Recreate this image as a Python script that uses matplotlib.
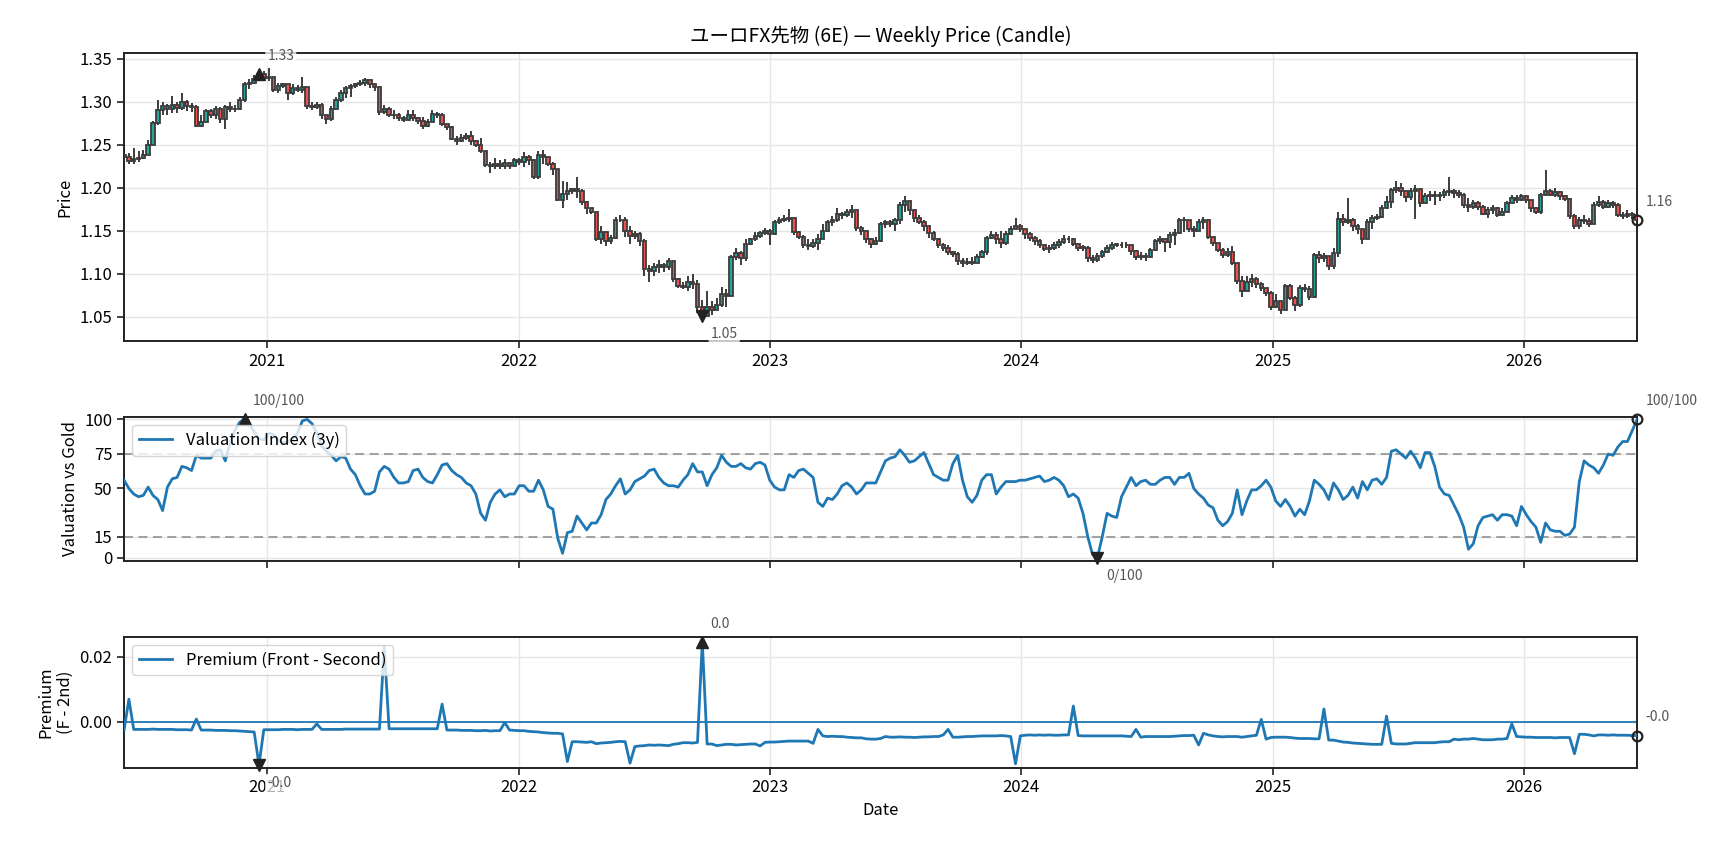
import numpy as np
import pandas as pd
import matplotlib
matplotlib.use("Agg")
import matplotlib.pyplot as plt
import matplotlib.dates as mdates

plt.rcParams['font.family'] = ['Noto Sans CJK JP', 'DejaVu Sans']

# weekly candles, prices in 1/1000
close_k = [
    1236, 1231, 1233, 1235, 1238, 1250, 1275, 1290, 1295, 1292,
    1296, 1293, 1300, 1295, 1294, 1272, 1276, 1289, 1285, 1291,
    1280, 1294, 1292, 1291, 1302, 1320, 1322, 1326, 1332, 1328,
    1329, 1313, 1318, 1320, 1310, 1316, 1314, 1317, 1295, 1294,
    1296, 1284, 1280, 1292, 1302, 1310, 1316, 1318, 1320, 1322,
    1325, 1321, 1317, 1288, 1292, 1285, 1284, 1281, 1279, 1285,
    1281, 1277, 1272, 1276, 1286, 1285, 1274, 1270, 1257, 1254,
    1258, 1260, 1254, 1250, 1243, 1226, 1225, 1228, 1225, 1229,
    1225, 1232, 1230, 1236, 1232, 1212, 1238, 1236, 1228, 1222,
    1186, 1193, 1196, 1198, 1196, 1183, 1177, 1172, 1140, 1148,
    1138, 1142, 1163, 1162, 1150, 1144, 1146, 1138, 1106, 1103,
    1108, 1110, 1108, 1115, 1094, 1086, 1085, 1090, 1088, 1062,
    1051, 1062, 1058, 1064, 1076, 1074, 1120, 1124, 1118, 1135,
    1140, 1144, 1147, 1150, 1146, 1160, 1162, 1164, 1165, 1148,
    1143, 1133, 1132, 1136, 1140, 1150, 1160, 1163, 1170, 1168,
    1172, 1174, 1153, 1150, 1140, 1135, 1138, 1158, 1160, 1158,
    1162, 1180, 1185, 1174, 1165, 1160, 1155, 1147, 1141, 1134,
    1130, 1125, 1123, 1115, 1112, 1114, 1113, 1120, 1125, 1142,
    1145, 1140, 1136, 1146, 1152, 1155, 1152, 1146, 1142, 1138,
    1134, 1129, 1130, 1133, 1137, 1141, 1140, 1135, 1130, 1130,
    1118, 1116, 1121, 1125, 1130, 1134, 1134, 1133, 1133, 1127,
    1120, 1121, 1119, 1128, 1138, 1140,
    1137, 1145, 1147, 1162, 1163, 1152, 1150, 1160, 1162, 1143,
    1136, 1128, 1122, 1125, 1112, 1092, 1080, 1090, 1094, 1088,
    1084, 1078, 1062, 1068, 1058, 1086, 1072, 1064, 1084, 1082,
    1073, 1122, 1118, 1121, 1109, 1124, 1164, 1160, 1163, 1155,
    1152, 1140, 1160, 1165, 1166, 1177, 1183, 1197, 1200, 1196,
    1189, 1196, 1198, 1182, 1190, 1192, 1190, 1192, 1195, 1196,
    1194, 1192, 1180, 1178, 1182, 1178, 1170, 1174, 1176, 1168,
    1172, 1182, 1188, 1186, 1190, 1186, 1176, 1172, 1192, 1196,
    1192, 1195, 1190, 1187, 1167, 1155, 1162, 1161, 1158, 1180,
    1183, 1178, 1182, 1180, 1168, 1167, 1170, 1168, 1162,
]
high_k = [
    1253, 1240, 1246, 1243, 1244, 1255, 1277, 1302, 1300, 1297,
    1306, 1300, 1310, 1302, 1298, 1296, 1285, 1291, 1291, 1295,
    1294, 1296, 1299, 1296, 1305, 1323, 1326, 1331, 1334, 1336,
    1339, 1326, 1322, 1322, 1318, 1320, 1319, 1329, 1314, 1300,
    1300, 1298, 1285, 1295, 1305, 1313, 1318, 1320, 1322, 1325,
    1328, 1326, 1320, 1316, 1296, 1294, 1290, 1287, 1283, 1290,
    1290, 1282, 1282, 1280, 1290, 1288, 1287, 1273, 1272, 1260,
    1262, 1264, 1266, 1255, 1258, 1243, 1230, 1235, 1232, 1233,
    1230, 1235, 1234, 1242, 1238, 1233, 1243, 1244, 1236, 1230,
    1212, 1208, 1207, 1200, 1212, 1198, 1185, 1176, 1172, 1155,
    1148, 1145, 1166, 1168, 1166, 1155, 1150, 1148, 1140, 1110,
    1112, 1116, 1113, 1118, 1115, 1095, 1090, 1097, 1100, 1093,
    1070, 1080, 1068, 1072, 1085, 1082, 1122, 1130, 1126, 1140,
    1142, 1148, 1150, 1153, 1152, 1163, 1166, 1168, 1175, 1165,
    1150, 1145, 1140, 1140, 1146, 1158, 1162, 1167, 1176, 1172,
    1175, 1180, 1172, 1156, 1150, 1142, 1143, 1160, 1163, 1162,
    1165, 1183, 1190, 1182, 1172, 1168, 1162, 1155, 1150, 1142,
    1136, 1133, 1127, 1125, 1118, 1118, 1120, 1123, 1128, 1144,
    1150, 1148, 1150, 1150, 1155, 1165, 1158, 1152, 1148, 1144,
    1140, 1134, 1134, 1137, 1140, 1145, 1144, 1142, 1136, 1133,
    1132, 1122, 1124, 1128, 1133, 1137, 1136, 1137, 1137, 1134,
    1128, 1125, 1124, 1130, 1140, 1144,
    1140, 1148, 1152, 1165, 1166, 1160, 1156, 1164, 1166, 1164,
    1142, 1135, 1130, 1130, 1132, 1112, 1098, 1097, 1100, 1096,
    1090, 1082, 1080, 1076, 1066, 1088, 1088, 1074, 1087, 1088,
    1086, 1124, 1126, 1124, 1121, 1130, 1172, 1170, 1188, 1165,
    1158, 1152, 1164, 1168, 1170, 1180, 1190, 1200, 1208, 1205,
    1196, 1200, 1203, 1198, 1194, 1196, 1196, 1195, 1198, 1212,
    1198, 1197, 1194, 1188, 1186, 1184, 1180, 1178, 1180, 1178,
    1176, 1185, 1192, 1192, 1193, 1190, 1186, 1178, 1194, 1220,
    1198, 1200, 1196, 1192, 1188, 1170, 1166, 1168, 1165, 1183,
    1190, 1186, 1186, 1185, 1182, 1172, 1174, 1172, 1168,
]
low_k = [
    1233, 1228, 1228, 1230, 1233, 1240, 1250, 1273, 1285, 1285,
    1287, 1287, 1290, 1289, 1288, 1270, 1270, 1280, 1281, 1280,
    1275, 1268, 1288, 1288, 1290, 1300, 1315, 1320, 1324, 1325,
    1324, 1311, 1310, 1316, 1302, 1308, 1311, 1310, 1292, 1290,
    1292, 1280, 1274, 1278, 1292, 1300, 1304, 1305, 1316, 1318,
    1318, 1316, 1312, 1285, 1286, 1282, 1280, 1278, 1276, 1279,
    1277, 1274, 1268, 1270, 1276, 1281, 1272, 1267, 1255, 1250,
    1253, 1255, 1250, 1247, 1240, 1224, 1217, 1222, 1222, 1222,
    1222, 1225, 1226, 1224, 1226, 1210, 1210, 1228, 1225, 1215,
    1184, 1176, 1186, 1193, 1188, 1180, 1170, 1169, 1138, 1135,
    1132, 1135, 1140, 1160, 1143, 1135, 1140, 1132, 1098, 1090,
    1098, 1101, 1102, 1105, 1090, 1083, 1082, 1080, 1082, 1055,
    1045, 1058, 1052, 1060, 1062, 1062, 1074, 1116, 1110, 1115,
    1133, 1138, 1142, 1145, 1134, 1145, 1158, 1160, 1160, 1145,
    1140, 1130, 1128, 1130, 1128, 1142, 1148, 1155, 1160, 1164,
    1166, 1165, 1150, 1145, 1136, 1130, 1134, 1137, 1153, 1154,
    1150, 1158, 1172, 1168, 1160, 1158, 1150, 1142, 1138, 1130,
    1126, 1122, 1120, 1110, 1108, 1110, 1110, 1112, 1118, 1122,
    1140, 1135, 1130, 1133, 1145, 1152, 1148, 1140, 1138, 1134,
    1130, 1126, 1124, 1128, 1130, 1135, 1136, 1132, 1127, 1126,
    1114, 1112, 1114, 1118, 1124, 1128, 1131, 1130, 1130, 1122,
    1116, 1116, 1115, 1118, 1126, 1135,
    1125, 1130, 1133, 1146, 1148, 1148, 1143, 1150, 1152, 1140,
    1132, 1125, 1118, 1120, 1110, 1088, 1073, 1082, 1085, 1084,
    1080, 1074, 1058, 1060, 1053, 1060, 1070, 1057, 1062, 1079,
    1070, 1072, 1113, 1114, 1104, 1106, 1120, 1155, 1158, 1150,
    1146, 1135, 1142, 1152, 1162, 1165, 1175, 1176, 1194, 1190,
    1183, 1186, 1164, 1178, 1183, 1184, 1180, 1185, 1188, 1190,
    1188, 1188, 1176, 1172, 1175, 1174, 1168, 1165, 1170, 1166,
    1168, 1172, 1182, 1182, 1184, 1182, 1172, 1170, 1170, 1193,
    1190, 1189, 1186, 1184, 1164, 1152, 1152, 1158, 1154, 1160,
    1178, 1175, 1176, 1176, 1166, 1164, 1165, 1164, 1160,
]

# valuation index vs gold (0-100)
valuation = [
    56, 50, 46, 44, 45, 51, 45, 42, 34, 51,
    57, 58, 66, 65, 63, 74, 72, 72, 72, 77,
    78, 70, 83, 92, 98, 100, 97, 91, 86, 85,
    90, 89, 85, 83, 84, 86, 90, 99, 100, 97,
    90, 81, 77, 74, 70, 73, 72, 64, 60, 52,
    46, 46, 48, 62, 66, 64, 58, 54, 54, 55,
    63, 64, 58, 55, 54, 60, 67, 68, 63, 60,
    58, 54, 52, 46, 32, 27, 40, 46, 49, 44,
    46, 46, 52, 52, 48, 48, 56, 49, 37, 35,
    14, 3, 18, 19, 30, 25, 20, 25, 25, 31,
    42, 46, 52, 57, 46, 49, 55, 57, 59, 63,
    64, 58, 54, 52, 52, 51, 56, 60, 68, 62,
    62, 52, 60, 65, 74, 69, 66, 66, 68, 65,
    64, 68, 69, 67, 56, 51, 49, 49, 60, 58,
    63, 64, 61, 58, 40, 37, 43, 42, 46, 52,
    54, 51, 46, 49, 54, 54, 54, 62, 70, 72,
    73, 78, 74, 69, 70, 73, 76, 68, 60, 58,
    56, 56, 68, 74, 56, 44, 40, 45, 56, 60,
    60, 46, 51, 55, 55, 55, 56, 56, 57, 58,
    59, 55, 56, 58, 56, 52, 44, 46, 43, 32,
    15, 2, 0, 15, 32, 30, 29, 44, 51, 58,
    52, 55, 56, 53, 53, 56,
    58, 58, 53, 58, 58, 61, 50, 46, 43, 38,
    36, 27, 23, 26, 32, 49, 31, 41, 49, 49,
    52, 56, 51, 41, 37, 42, 37, 30, 35, 31,
    41, 56, 53, 49, 42, 54, 49, 42, 45, 51,
    43, 55, 49, 56, 57, 53, 58, 77, 78, 75,
    72, 77, 72, 65, 76, 76, 66, 51, 46, 45,
    38, 31, 22, 6, 10, 23, 29, 30, 31, 27,
    31, 31, 30, 23, 37, 31, 26, 22, 11, 25,
    20, 19, 19, 16, 17, 22, 55, 70, 67, 65,
    61, 67, 75, 74, 80, 84, 84, 92, 100,
]

# front minus second month, in 1e-4
premium_e4 = [
    -26, 69, -24, -24, -24, -24, -23, -24, -24, -24, -24, -25, -25, -25, -26,
    8, -26, -26, -26, -27, -27, -27, -28, -28, -29, -30, -31, -32,
    -133, -25, -25, -25, -25, -24, -24, -24, -25, -24, -24, -24,
    -7, -24, -24, -24, -24, -24, -23, -23, -23, -23, -23, -23, -23, -23,
    231, -22, -22, -22, -22, -22, -22, -22, -22, -22, -22, -22,
    54, -26, -26, -26, -27, -27, -27, -28, -28, -27, -29, -28, -28,
    -3, -26, -27, -28, -28, -30, -31, -32, -34, -35, -36,
    -36, -38, -123,
    -62, -62, -63, -64, -62, -68, -66, -65, -64, -62, -61, -62,
    -128,
    -77, -75, -74, -72, -73, -72, -73, -74, -70, -68, -65, -65, -66, -64,
    246,
    -69, -69, -74, -72, -70, -70, -72, -71, -70, -69, -69,
    -75,
    -64, -63, -63, -62, -61, -60, -60, -60, -60, -60,
    -67, -24,
    -44, -46, -45, -46, -46, -48, -49, -50, -50, -53, -54, -54, -52,
    -46, -48, -48, -47, -48, -48, -49, -48, -47, -47, -46, -46, -41,
    -24,
    -48, -48, -47, -46, -46, -45, -44, -44, -44, -44, -43, -44, -46,
    -130,
    -44, -42, -41, -42, -41, -42, -41, -42, -42, -41, -41,
    48,
    -43, -44, -44, -44, -44, -44, -44, -44, -44, -44, -45, -46,
    -24,
    -48, -46, -46, -46, -46,
    -46, -46, -45, -44, -43, -43, -42,
    -72, -36,
    -41, -44, -46, -47, -46, -46, -46, -48, -46, -44, -42,
    7, -54,
    -49, -48, -48, -48, -49, -51, -52, -52, -52, -53, -53,
    39,
    -57, -57, -60, -63, -64, -66, -67, -68, -69, -70, -70, -70,
    17,
    -67, -69, -69, -69, -67, -65, -65, -65, -65, -65, -63, -62, -62,
    -54, -56, -54, -54, -52, -54, -56, -56, -56, -54, -54, -52,
    -7,
    -46, -47, -48, -48, -49, -49, -49, -49, -50, -49, -49, -49,
    -99,
    -39, -39, -41, -44, -41, -41, -42, -41, -42, -42, -42, -43, -43,
]

close = np.array(close_k) / 1000.0
high = np.array(high_k) / 1000.0
low = np.array(low_k) / 1000.0
openp = np.concatenate([[close[0] + 0.002], close[:-1]])
high = np.maximum(high, np.maximum(openp, close))
low = np.minimum(low, np.minimum(openp, close))
val = np.array(valuation, dtype=float)
prem = np.array(premium_e4) / 10000.0

dates = pd.date_range('2020-06-07', periods=len(close), freq='W-SUN')
x = mdates.date2num(dates)

DARK = '#222222'
CANDLE_EDGE = '#3c3c3c'
LBL = '#555555'
GRID = '#e6e6e6'
FS = 12

fig = plt.figure(figsize=(17.28, 8.49), dpi=100)
ax1 = fig.add_axes([0.0718, 0.5984, 0.8756, 0.3392])
ax2 = fig.add_axes([0.0718, 0.3396, 0.8756, 0.1696], sharex=ax1)
ax3 = fig.add_axes([0.0718, 0.0958, 0.8756, 0.1543], sharex=ax1)

bbox = dict(boxstyle='round,pad=0.15', fc='white', ec='none', alpha=0.75)


def note(ax, xv, yv, text, up=True, color=LBL):
    ax.annotate(text, (xv, yv), xytext=(6, 8 if up else -8), textcoords='offset points',
                ha='left', va='bottom' if up else 'top', fontsize=10, color=color,
                bbox=bbox, zorder=6, annotation_clip=False)


# --- candles
up = close >= openp
body_lo = np.minimum(openp, close)
body_h = np.maximum(np.abs(close - openp), 0.001)
ax1.vlines(x, low, high, color=CANDLE_EDGE, lw=1.4, zorder=2)
ax1.bar(x[up], body_h[up], bottom=body_lo[up], width=5.0, color='#26a69a',
        edgecolor=CANDLE_EDGE, linewidth=1.3, zorder=3)
ax1.bar(x[~up], body_h[~up], bottom=body_lo[~up], width=5.0, color='#ef5350',
        edgecolor=CANDLE_EDGE, linewidth=1.3, zorder=3)

imax = int(np.argmax(close))
imin = int(np.argmin(close))
ax1.plot(x[imax], close[imax], '^', color=DARK, ms=8, zorder=5, clip_on=False)
ax1.plot(x[imin], close[imin], 'v', color=DARK, ms=8, zorder=5, clip_on=False)
ax1.plot(x[-1], close[-1], 'o', mfc='none', mec=DARK, mew=1.6, ms=7, zorder=5, clip_on=False)
note(ax1, x[imax], close[imax], f'{close[imax]:.2f}', True)
note(ax1, x[imin], close[imin], f'{close[imin]:.2f}', False)
note(ax1, x[-1], close[-1], f'{close[-1]:.2f}', True)
ax1.set_ylim(1.022, 1.3565)
ax1.set_yticks(np.arange(1.05, 1.351, 0.05))
ax1.yaxis.set_major_formatter(plt.FormatStrFormatter('%.2f'))
ax1.set_ylabel('Price', fontsize=FS)
ax1.set_title('ユーロFX先物 (6E) — Weekly Price (Candle)', fontsize=14, pad=8)

# --- valuation
ax2.plot(x, val, color='#1f77b4', lw=2.0, label='Valuation Index (3y)', zorder=3)
for lvl in (75, 15):
    ax2.axhline(lvl, color='#999999', lw=1.3, ls=(0, (5, 3)), zorder=2)
vmax = int(np.argmax(val))
vmin = int(np.argmin(val))
ax2.plot(x[vmax], val[vmax], '^', color=DARK, ms=8, zorder=5, clip_on=False)
ax2.plot(x[vmin], val[vmin], 'v', color=DARK, ms=8, zorder=5, clip_on=False)
ax2.plot(x[-1], val[-1], 'o', mfc='none', mec=DARK, mew=1.6, ms=7, zorder=5, clip_on=False)
note(ax2, x[vmax], val[vmax], f'{val[vmax]:.0f}/100', True)
note(ax2, x[vmin], val[vmin], f'{val[vmin]:.0f}/100', False)
note(ax2, x[-1], val[-1], f'{val[-1]:.0f}/100', True)
ax2.set_ylim(-2.3, 102)
ax2.set_yticks([0, 15, 50, 75, 100])
ax2.set_ylabel('Valuation vs Gold', fontsize=FS)
ax2.legend(loc='upper left', fontsize=FS, framealpha=0.8, borderaxespad=0.5)
ax2.tick_params(labelbottom=False)

# --- premium
ax3.plot(x, prem, color='#1f77b4', lw=2.0, label='Premium (Front - Second)', zorder=3)
ax3.axhline(0, color='#1f77b4', lw=1.3, zorder=2)
pmax = int(np.argmax(prem))
pmin = int(np.argmin(prem))
ax3.plot(x[pmax], prem[pmax], '^', color=DARK, ms=8, zorder=5, clip_on=False)
ax3.plot(x[pmin], prem[pmin], 'v', color=DARK, ms=8, zorder=5, clip_on=False)
ax3.plot(x[-1], prem[-1], 'o', mfc='none', mec=DARK, mew=1.6, ms=7, zorder=5, clip_on=False)
note(ax3, x[pmax], prem[pmax], f'{prem[pmax]:.1f}', True)
note(ax3, x[pmin], prem[pmin], f'{prem[pmin]:.1f}', False)
note(ax3, x[-1], prem[-1], f'{prem[-1]:.1f}', True)
ax3.set_ylim(-0.0142, 0.0262)
ax3.set_yticks([0.0, 0.02])
ax3.yaxis.set_major_formatter(plt.FormatStrFormatter('%.2f'))
ax3.set_ylabel('Premium\n(F - 2nd)', fontsize=FS)
ax3.set_xlabel('Date', fontsize=FS)
ax3.legend(loc='upper left', fontsize=FS, framealpha=0.8, borderaxespad=0.5)

for ax in (ax1, ax2, ax3):
    ax.grid(True, color=GRID, lw=1.0, zorder=0)
    ax.set_axisbelow(True)
    ax.tick_params(labelsize=FS, direction='out', length=5, width=1.2, color=DARK)
    for s in ax.spines.values():
        s.set_linewidth(1.4)
        s.set_color(DARK)
ax1.xaxis.set_major_locator(mdates.YearLocator())
ax1.xaxis.set_major_formatter(mdates.DateFormatter('%Y'))
ax1.set_xlim(x[0], x[-1])
ax1.tick_params(labelbottom=True)

fig.savefig('out.png', dpi=100)
